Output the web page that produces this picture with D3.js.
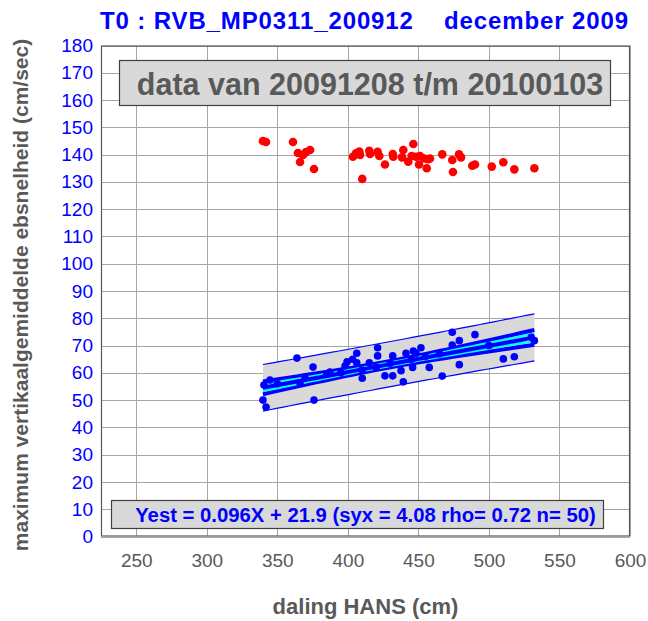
<!DOCTYPE html>
<html>
<head>
<meta charset="utf-8">
<script src="https://cdn.jsdelivr.net/npm/d3@7"></script>
<style>
  html, body { margin: 0; padding: 0; background: #fff; }
  svg { display: block; font-family: "Liberation Sans", Arial, sans-serif; }
</style>
</head>
<body>
<script>
// Ebb-current period (red) and flood-current period (blue) measurements
const redX  = [339.8, 342.0, 361.1, 364.6, 368.2, 366.1, 373.2, 376.0, 370.3,
               403.6, 405.8, 408.1, 408.6, 410.2, 415.2, 415.7, 421.1, 422.3, 426.3,
               431.8, 432.2, 439.3, 438.4, 446.4, 442.8, 445.2, 448.3, 451.1, 450.4,
               454.2, 457.0, 458.2, 455.9, 466.9, 474.0, 474.5, 478.8, 480.2, 488.2,
               490.1, 502.0, 510.2, 518.0, 532.2];
const redY  = [145.0, 144.6, 144.6, 140.6, 139.9, 137.3, 141.7, 134.7, 140.9,
               139.2, 140.5, 141.1, 139.9, 131.1, 141.4, 140.2, 141.0, 139.5, 136.4,
               140.2, 139.2, 141.7, 139.0, 143.9, 137.4, 139.5, 139.2, 139.5, 136.4,
               138.6, 138.3, 138.6, 135.0, 140.1, 138.0, 133.6, 140.1, 139.0, 135.9,
               136.4, 135.6, 137.2, 134.6, 135.0];

const blueX = [339.8, 342.0, 340.5, 344.8, 363.9, 366.1, 369.6, 375.3, 376.0, 387.3,
               398.0, 399.4, 406.3, 403.4, 406.3, 415.2, 421.1, 421.1, 410.2, 426.3,
               431.8, 431.8, 437.7, 439.3, 441.2, 446.4, 448.3, 445.9, 451.8, 457.7,
               466.9, 474.0, 474.0, 479.0, 479.0, 490.1, 510.2, 518.0, 532.2, 410.0,
               420.0, 430.0, 445.0, 455.0, 465.0, 500.0, 530.0, 350.0, 395.0, 385.0];
const blueY = [50.0, 47.5, 55.5, 57.4, 65.4, 56.3, 58.1, 62.1, 50.0, 60.3,
               62.5, 64.0, 67.2, 65.0, 63.7, 63.7, 69.2, 66.2, 58.0, 58.9,
               58.9, 66.2, 60.8, 56.7, 67.2, 68.0, 67.2, 62.0, 69.2, 62.0,
               58.8, 74.9, 70.2, 71.8, 63.0, 74.0, 65.1, 65.9, 71.8, 61.0,
               62.0, 63.5, 65.0, 66.0, 67.0, 70.0, 73.0, 56.0, 60.0, 59.5];

const xTicks = [250, 300, 350, 400, 450, 500, 550, 600];
const yTicks = [0, 10, 20, 30, 40, 50, 60, 70, 80, 90, 100, 110, 120, 130, 140, 150, 160, 170, 180];

// Regression summary for the blue series
const slope = 0.096, intercept = 21.9, syx = 4.08, rho = 0.72, nObs = 50;

const titleText = "T0 : RVB_MP0311_200912    december 2009";
const periodText = "data van 20091208 t/m 20100103";
const xLabel = "daling HANS (cm)";
const yLabel = "maximum vertikaalgemiddelde ebsnelheid (cm/sec)";

const W = 648, H = 621;
const M = { left: 101, right: 630, top: 45.5, bottom: 536.5 };

const svg = d3.select("body").append("svg").attr("width", W).attr("height", H);

const x = d3.scaleLinear().domain([225, 600]).range([M.left, M.right]);
const y = d3.scaleLinear().domain([0, 180]).range([M.bottom, M.top]);

// grid
const grid = svg.append("g").attr("stroke", "#a6a6a6").attr("stroke-width", 1);
grid.selectAll(".gx").data(xTicks).join("line")
  .attr("x1", d => Math.round(x(d)) + 0.5).attr("x2", d => Math.round(x(d)) + 0.5)
  .attr("y1", M.top).attr("y2", M.bottom);
grid.selectAll(".gy").data(yTicks).join("line")
  .attr("y1", d => Math.round(y(d)) + 0.5).attr("y2", d => Math.round(y(d)) + 0.5)
  .attr("x1", M.left).attr("x2", M.right);

// axis tick labels
const yAxis = svg.append("g").attr("transform", `translate(${M.left},0)`)
  .call(d3.axisLeft(y).tickValues(yTicks).tickSize(0).tickPadding(8));
yAxis.select(".domain").remove();
yAxis.selectAll("text").attr("fill", "#0000ff").attr("font-size", 19)
  .attr("font-family", "Liberation Sans, Arial, sans-serif");

const xAxis = svg.append("g").attr("transform", `translate(0,${M.bottom})`)
  .call(d3.axisBottom(x).tickValues(xTicks).tickSize(0).tickPadding(17));
xAxis.select(".domain").remove();
xAxis.selectAll("text").attr("fill", "#595959").attr("font-size", 19)
  .attr("font-family", "Liberation Sans, Arial, sans-serif");

// regression bands
const xm = d3.mean(blueX);
const sxx = d3.sum(blueX, v => (v - xm) * (v - xm));
const t95 = 2.01;
const x0 = d3.min(blueX), x1 = d3.max(blueX);
const xs = d3.range(0, 41).map(i => x0 + (x1 - x0) * i / 40);
const fit = v => intercept + slope * v;
const se = v => syx * Math.sqrt(1 / nObs + (v - xm) * (v - xm) / sxx);
const pe = v => syx * Math.sqrt(1 + 1 / nObs + (v - xm) * (v - xm) / sxx);

const area = d3.area().x(d => x(d)).y0(d => y(fit(d) - t95 * pe(d))).y1(d => y(fit(d) + t95 * pe(d)));
svg.append("path").datum(xs).attr("d", area).attr("fill", "#d9d9d9");

const line = f => d3.line().x(d => x(d)).y(d => y(f(d)));
svg.append("path").datum(xs).attr("d", line(d => fit(d) + t95 * pe(d)))
  .attr("fill", "none").attr("stroke", "#0000ff").attr("stroke-width", 1.2);
svg.append("path").datum(xs).attr("d", line(d => fit(d) - t95 * pe(d)))
  .attr("fill", "none").attr("stroke", "#0000ff").attr("stroke-width", 1.2);

// 95% confidence of the mean (blue), one standard error (cyan), fit line
[1, -1].forEach(s => {
  svg.append("path").datum(xs).attr("d", line(d => fit(d) + s * t95 * se(d)))
    .attr("fill", "none").attr("stroke", "#0000ff").attr("stroke-width", 4);
});
[1, -1].forEach(s => {
  svg.append("path").datum(xs).attr("d", line(d => fit(d) + s * se(d)))
    .attr("fill", "none").attr("stroke", "#00ffff").attr("stroke-width", 2.5);
});
svg.append("path").datum(xs).attr("d", line(fit))
  .attr("fill", "none").attr("stroke", "#0000ff").attr("stroke-width", 4);

// points
svg.append("g").selectAll("circle").data(d3.zip(blueX, blueY)).join("circle")
  .attr("cx", d => x(d[0])).attr("cy", d => y(d[1])).attr("r", 3.8).attr("fill", "#0000ff");
svg.append("g").selectAll("circle").data(d3.zip(redX, redY)).join("circle")
  .attr("cx", d => x(d[0])).attr("cy", d => y(d[1])).attr("r", 4.3).attr("fill", "#ff0000");

// frame
svg.append("rect").attr("x", M.left + 0.5).attr("y", M.top + 0.5)
  .attr("width", M.right - M.left - 1).attr("height", M.bottom - M.top - 1)
  .attr("fill", "none").attr("stroke", "#595959").attr("stroke-width", 1.2);

// period box
svg.append("rect").attr("x", 119.5).attr("y", 60.5).attr("width", 491).attr("height", 45)
  .attr("fill", "#d9d9d9").attr("stroke", "#404040").attr("stroke-width", 1.2);
svg.append("text").attr("x", 370).attr("y", 94.5).attr("text-anchor", "middle")
  .attr("font-size", 30.5).attr("font-weight", "bold").attr("fill", "#595959").text(periodText);

// regression box
const eqText = `Yest = ${slope.toFixed(3)}X + ${intercept.toFixed(1)} (syx = ${syx.toFixed(2)} rho= ${rho.toFixed(2)} n= ${nObs})`;
svg.append("rect").attr("x", 111.5).attr("y", 500.5).attr("width", 492).attr("height", 28)
  .attr("fill", "#d9d9d9").attr("stroke", "#404040").attr("stroke-width", 1.2);
svg.append("text").attr("x", 365.5).attr("y", 522).attr("text-anchor", "middle")
  .attr("font-size", 20.3).attr("font-weight", "bold").attr("fill", "#0000ff").text(eqText);

// titles
svg.append("text").attr("x", 364).attr("y", 29).attr("text-anchor", "middle")
  .attr("font-size", 24).attr("font-weight", "bold").attr("fill", "#0000ff")
  .attr("textLength", 528).attr("lengthAdjust", "spacing")
  .attr("xml:space", "preserve").style("white-space", "pre").text(titleText);
svg.append("text").attr("x", 365.5).attr("y", 614).attr("text-anchor", "middle")
  .attr("font-size", 22).attr("font-weight", "bold").attr("fill", "#595959").text(xLabel);
svg.append("text").attr("transform", `translate(28,${(M.top + M.bottom) / 2 + 4}) rotate(-90)`)
  .attr("text-anchor", "middle")
  .attr("font-size", 21).attr("font-weight", "bold").attr("fill", "#595959").text(yLabel);
</script>
</body>
</html>
